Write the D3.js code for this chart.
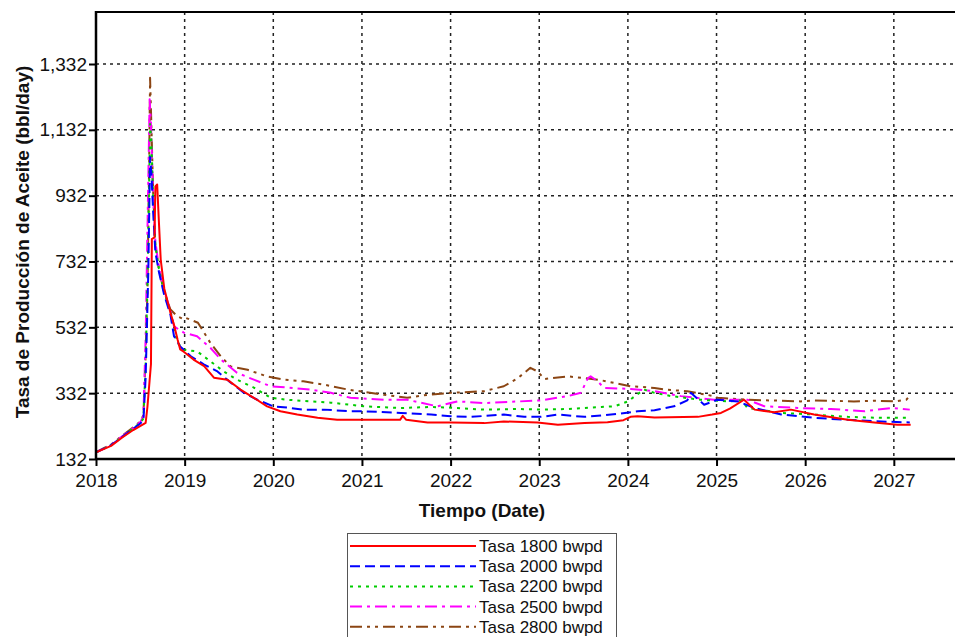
<!DOCTYPE html>
<html><head><meta charset="utf-8">
<script src="https://cdn.jsdelivr.net/npm/d3@7"></script>
<style>
body{margin:0;background:#fff;}
svg{display:block;font-family:"Liberation Sans",Arial,sans-serif;}
</style></head>
<body><svg id="chart" width="955" height="637"></svg>
<script>
const xTicks = [2018,2019,2020,2021,2022,2023,2024,2025,2026,2027];
const yTicks = [132,332,532,732,932,1132,1332];
const seriesNames = ["Tasa 1800 bwpd","Tasa 2000 bwpd","Tasa 2200 bwpd","Tasa 2500 bwpd","Tasa 2800 bwpd"];

const tasa1800 = [[2018.0,152],[2018.17,172],[2018.3,198],[2018.42,220],[2018.56,242],[2018.58,290],[2018.62,420],[2018.63,800],[2018.66,805],[2018.67,960],[2018.69,966],[2018.71,850],[2018.73,738],[2018.77,650],[2018.84,576],[2018.88,540],[2018.92,495],[2018.95,465],[2018.99,458],[2019.10,434],[2019.22,414],[2019.33,379],[2019.48,373],[2019.63,343],[2019.78,318],[2019.93,292],[2020.08,277],[2020.27,267],[2020.5,257],[2020.72,251],[2021.0,251],[2021.43,251],[2021.46,263],[2021.5,251],[2021.74,243],[2022.0,243],[2022.38,241],[2022.6,246],[2022.98,243],[2023.21,236],[2023.51,241],[2023.77,244],[2023.95,250],[2024.03,260],[2024.11,262],[2024.3,258],[2024.79,260],[2024.95,267],[2025.05,272],[2025.15,285],[2025.31,312],[2025.43,282],[2025.65,274],[2025.84,282],[2026.1,267],[2026.48,251],[2026.78,243],[2027.04,236],[2027.19,236]];
const tasa2000 = [[2018.0,152],[2018.17,174],[2018.3,200],[2018.42,224],[2018.5,240],[2018.535,250],[2018.56,380],[2018.59,700],[2018.61,1050],[2018.625,1000],[2018.645,880],[2018.67,760],[2018.71,700],[2018.77,630],[2018.84,570],[2018.88,505],[2018.95,474],[2019.07,444],[2019.22,419],[2019.37,398],[2019.52,364],[2019.67,333],[2019.82,312],[2020.0,292],[2020.16,288],[2020.34,282],[2020.57,282],[2020.87,277],[2021.02,277],[2021.44,272],[2021.78,267],[2022.0,262],[2022.23,260],[2022.6,267],[2022.83,260],[2023.02,260],[2023.21,267],[2023.51,260],[2023.7,264],[2023.92,270],[2024.11,277],[2024.3,280],[2024.52,292],[2024.67,310],[2024.71,333],[2024.86,297],[2025.01,312],[2025.24,307],[2025.43,287],[2025.73,267],[2026.1,257],[2026.48,251],[2026.86,246],[2027.18,243]];
const tasa2200 = [[2018.0,152],[2018.17,174],[2018.3,200],[2018.42,225],[2018.5,242],[2018.535,255],[2018.56,420],[2018.59,800],[2018.61,1150],[2018.625,1100],[2018.645,920],[2018.67,780],[2018.71,710],[2018.77,640],[2018.84,580],[2018.92,485],[2018.99,464],[2019.14,459],[2019.29,429],[2019.44,398],[2019.59,373],[2019.78,349],[2019.97,318],[2020.16,312],[2020.42,307],[2020.65,303],[2020.87,297],[2021.02,292],[2021.44,287],[2021.78,290],[2022.0,288],[2022.38,282],[2022.76,284],[2023.02,282],[2023.32,284],[2023.7,290],[2023.85,292],[2024.0,307],[2024.18,343],[2024.3,333],[2024.49,323],[2024.82,312],[2025.13,307],[2025.28,310],[2025.35,287],[2025.73,272],[2026.1,267],[2026.48,260],[2026.86,257],[2027.18,257]];
const tasa2500 = [[2018.0,152],[2018.17,175],[2018.3,202],[2018.42,226],[2018.5,244],[2018.535,262],[2018.56,500],[2018.585,900],[2018.605,1225],[2018.62,1150],[2018.645,930],[2018.67,790],[2018.71,715],[2018.77,640],[2018.84,585],[2018.88,535],[2018.99,516],[2019.14,505],[2019.29,470],[2019.41,434],[2019.59,394],[2019.78,373],[2019.97,353],[2020.16,349],[2020.42,343],[2020.65,333],[2020.87,318],[2021.25,312],[2021.51,312],[2021.85,292],[2022.0,302],[2022.08,307],[2022.38,302],[2023.02,310],[2023.32,323],[2023.47,333],[2023.55,378],[2023.58,383],[2023.66,368],[2023.73,348],[2024.03,345],[2024.3,338],[2024.6,323],[2024.97,312],[2025.35,312],[2025.54,292],[2025.92,287],[2026.29,284],[2026.67,277],[2026.97,287],[2027.18,282]];
const tasa2800 = [[2018.0,153],[2018.17,176],[2018.3,204],[2018.42,228],[2018.5,246],[2018.535,265],[2018.56,450],[2018.58,640],[2018.60,1040],[2018.61,1290],[2018.625,1143],[2018.645,940],[2018.67,778],[2018.71,707],[2018.77,637],[2018.84,586],[2018.92,565],[2018.99,557],[2019.01,561],[2019.15,546],[2019.29,485],[2019.41,443],[2019.52,413],[2019.71,403],[2019.93,383],[2020.12,373],[2020.34,368],[2020.57,358],[2020.84,343],[2021.25,327],[2021.51,318],[2021.74,327],[2022.0,333],[2022.38,338],[2022.6,353],[2022.76,378],[2022.9,409],[2022.98,398],[2023.06,375],[2023.32,383],[2023.51,378],[2023.7,371],[2023.85,363],[2024.03,353],[2024.3,348],[2024.41,343],[2024.67,338],[2024.97,323],[2025.01,318],[2025.35,312],[2025.73,309],[2025.95,307],[2026.1,310],[2026.55,307],[2026.78,309],[2027.01,307],[2027.14,312],[2027.19,327]];

const seriesData = [tasa1800,tasa2000,tasa2200,tasa2500,tasa2800];
const colors = ["#ff0000","#0000ff","#00cc00","#ff00ff","#8b4513"];
const dashes = [null,"10,5","3,5","12,5,3,5","12,5,3,5,3,5"];

const svg = d3.select("#chart");
const L=96, T=12, R=955, B=459;
const x = d3.scaleLinear().domain([2018, 2027.69]).range([L, R]);
const y = d3.scaleLinear().domain([132, 1490]).range([B, T]);

// grid
const grid = svg.append("g");
grid.selectAll("line.v").data(xTicks.slice(1)).join("line")
  .attr("x1",d=>x(d)).attr("x2",d=>x(d)).attr("y1",T).attr("y2",B)
  .attr("stroke","#222").attr("stroke-width",1.5).attr("stroke-dasharray","3,4");
grid.selectAll("line.h").data(yTicks.slice(1)).join("line")
  .attr("x1",L).attr("x2",R).attr("y1",d=>y(d)).attr("y2",d=>y(d))
  .attr("stroke","#222").attr("stroke-width",1.5).attr("stroke-dasharray","3,4");

// lines
const line = d3.line().x(d=>x(d[0])).y(d=>y(d[1]));
const order = [4,3,2,1,0];
order.forEach(i=>{
  svg.append("path").datum(seriesData[i]).attr("d",line)
    .attr("fill","none").attr("stroke",colors[i]).attr("stroke-width",2)
    .attr("stroke-dasharray",dashes[i]).attr("stroke-linejoin","round");
});

// axes
const xAxis = svg.append("g").attr("transform",`translate(0,${B})`)
  .call(d3.axisBottom(x).tickValues(xTicks).tickFormat(d3.format("d")).tickSize(7).tickSizeOuter(0));
const yAxis = svg.append("g").attr("transform",`translate(${L},0)`)
  .call(d3.axisLeft(y).tickValues(yTicks).tickFormat(d3.format(",")).tickSize(7).tickSizeOuter(0));
[xAxis,yAxis].forEach(a=>{
  a.select(".domain").remove();
  a.selectAll(".tick line").attr("stroke","#000").attr("stroke-width",2);
  a.selectAll(".tick text").attr("font-size",19).attr("fill","#111").attr("font-family","Liberation Sans, Arial, sans-serif");
});
xAxis.selectAll(".tick text").attr("dy","0.95em");
yAxis.selectAll(".tick text").attr("dx","0.05em");

svg.append("line").attr("x1",L).attr("x2",L).attr("y1",T-1).attr("y2",B+1).attr("stroke","#000").attr("stroke-width",2.5);
svg.append("line").attr("x1",L).attr("x2",R).attr("y1",B).attr("y2",B).attr("stroke","#000").attr("stroke-width",2.5);
svg.append("line").attr("x1",L).attr("x2",R).attr("y1",T).attr("y2",T).attr("stroke","#000").attr("stroke-width",2);

// titles
svg.append("text").attr("x",482).attr("y",517).attr("text-anchor","middle")
  .attr("font-size",19).attr("font-weight","bold").attr("fill","#111").text("Tiempo (Date)");
svg.append("text").attr("transform","translate(29,242) rotate(-90)").attr("text-anchor","middle")
  .attr("font-size",19).attr("font-weight","bold").attr("fill","#111").text("Tasa de Producción de Aceite (bbl/day)");

// legend
const lg = svg.append("g");
lg.append("rect").attr("x",347.5).attr("y",533.5).attr("width",269).attr("height",110)
  .attr("fill","#fff").attr("stroke","#555").attr("stroke-width",1);
seriesNames.forEach((n,i)=>{
  const yy = 546 + i*20.2;
  lg.append("line").attr("x1",350).attr("x2",476).attr("y1",yy).attr("y2",yy)
    .attr("stroke",colors[i]).attr("stroke-width",2).attr("stroke-dasharray",dashes[i]);
  lg.append("text").attr("x",479).attr("y",yy+6).attr("font-size",17).attr("fill","#111").text(n);
});
</script></body></html>
